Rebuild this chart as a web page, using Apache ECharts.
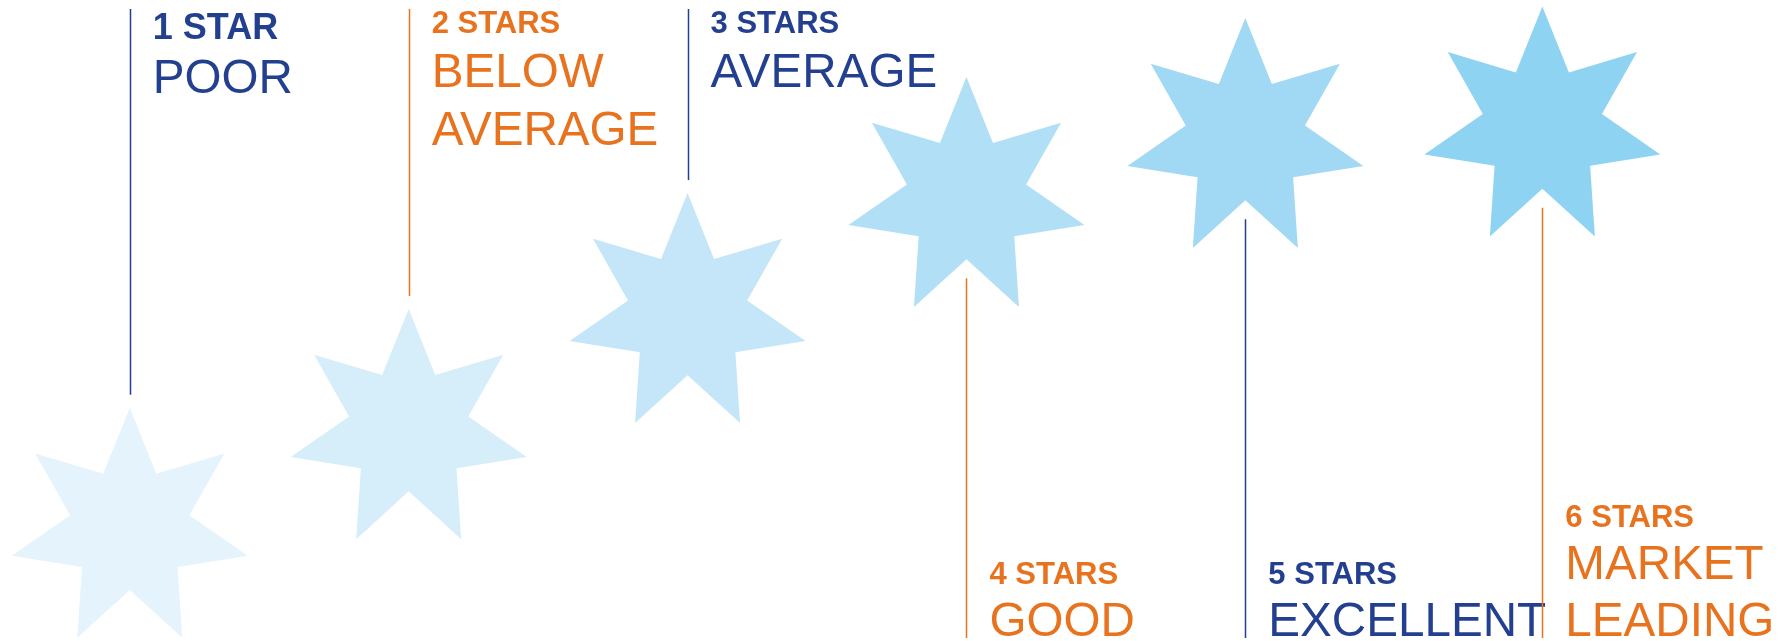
<!DOCTYPE html>
<html>
<head>
<meta charset="utf-8">
<script src="https://cdn.jsdelivr.net/npm/echarts@6/dist/echarts.min.js"></script>
<style>
  html, body { margin: 0; padding: 0; background: #ffffff; }
  #chart { width: 1785px; height: 641px; }
</style>
</head>
<body>
<div id="chart"></div>
<script>
// ---- data ----
const ratings = [1, 2, 3, 4, 5, 6];
const headings = ['1 STAR', '2 STARS', '3 STARS', '4 STARS', '5 STARS', '6 STARS'];
const titles = [['POOR'], ['BELOW', 'AVERAGE'], ['AVERAGE'], ['GOOD'], ['EXCELLENT'], ['MARKET', 'LEADING']];
const starPosition = [1, 2, 3, 4, 5, 6.065];
const starLevel = [17.5, 32.9, 51.0, 69.1, 78.3, 80.1];

// ---- styles ----
const BLUE = '#233f8f';
const ORANGE = '#e8731f';
const starColors = ['#e5f4fc', '#d6edfa', '#c5e6f8', '#b0dff6', '#a1d8f4', '#8fd3f3'];
const FONT = '"Liberation Sans", Arial, Helvetica, sans-serif';

const R = 121, rInner = 0.505 * R;
const WORD_SIZE = 47.6;

function starPoints(cx, cy) {
  const pts = [];
  for (let k = 0; k < 14; k++) {
    const a = -Math.PI / 2 + k * Math.PI / 7;
    const rad = k % 2 === 0 ? R : rInner;
    pts.push([cx + rad * Math.cos(a), cy + rad * Math.sin(a)]);
  }
  return pts;
}

function textEl(x, baseline, text, size, bold, color) {
  return {
    type: 'text',
    style: {
      x: x, y: baseline + 0.15 * size,
      text: text,
      fill: color,
      fontSize: size,
      fontFamily: FONT,
      fontWeight: bold ? 'bold' : 'normal',
      align: 'left',
      verticalAlign: 'bottom',
      lineHeight: size
    }
  };
}

const chart = echarts.init(document.getElementById('chart'), null, { renderer: 'canvas' });

chart.setOption({
  animation: false,
  backgroundColor: '#ffffff',
  grid: { left: 0, right: 0, top: 0, bottom: 0 },
  xAxis: { type: 'value', min: 0.5346, max: 6.935, show: false },
  yAxis: { type: 'value', min: 0, max: 100, show: false },
  series: [{
    type: 'custom',
    data: ratings.map((r, i) => [starPosition[i], starLevel[i], i]),
    renderItem: function (params, api) {
      const i = api.value(2);
      const c = api.coord([api.value(0), api.value(1)]);
      const color = i % 2 === 0 ? BLUE : ORANGE;
      const top = i < 3;
      const children = [];
      children.push({
        type: 'polygon',
        shape: { points: starPoints(c[0], c[1]) },
        style: { fill: starColors[i] }
      });
      const lx = Math.round(c[0]) + 0.5;
      let y1, y2;
      if (top) { y1 = 9; y2 = c[1] - R - 13; }
      else { y1 = c[1] + rInner + 19; y2 = 638; }
      children.push({
        type: 'line',
        shape: { x1: lx, y1: y1, x2: lx, y2: y2 },
        style: { stroke: color, lineWidth: 1.5 }
      });
      const tx = c[0] + 23;
      const hSize = i === 0 ? 36 : 31;
      const words = titles[i];
      if (top) {
        const hb = i === 0 ? 41.5 : 35.5;
        children.push(textEl(tx, hb, headings[i], hSize, true, color));
        words.forEach((w, k) => children.push(textEl(tx, hb + 55.5 + 57.5 * k, w, WORD_SIZE, false, color)));
      } else {
        const lastB = 640;
        const firstB = lastB - 57 * (words.length - 1);
        children.push(textEl(tx, firstB - 54, headings[i], hSize, true, color));
        words.forEach((w, k) => children.push(textEl(tx, firstB + 57 * k, w, WORD_SIZE, false, color)));
      }
      return { type: 'group', children: children };
    }
  }]
});
</script>
</body>
</html>
